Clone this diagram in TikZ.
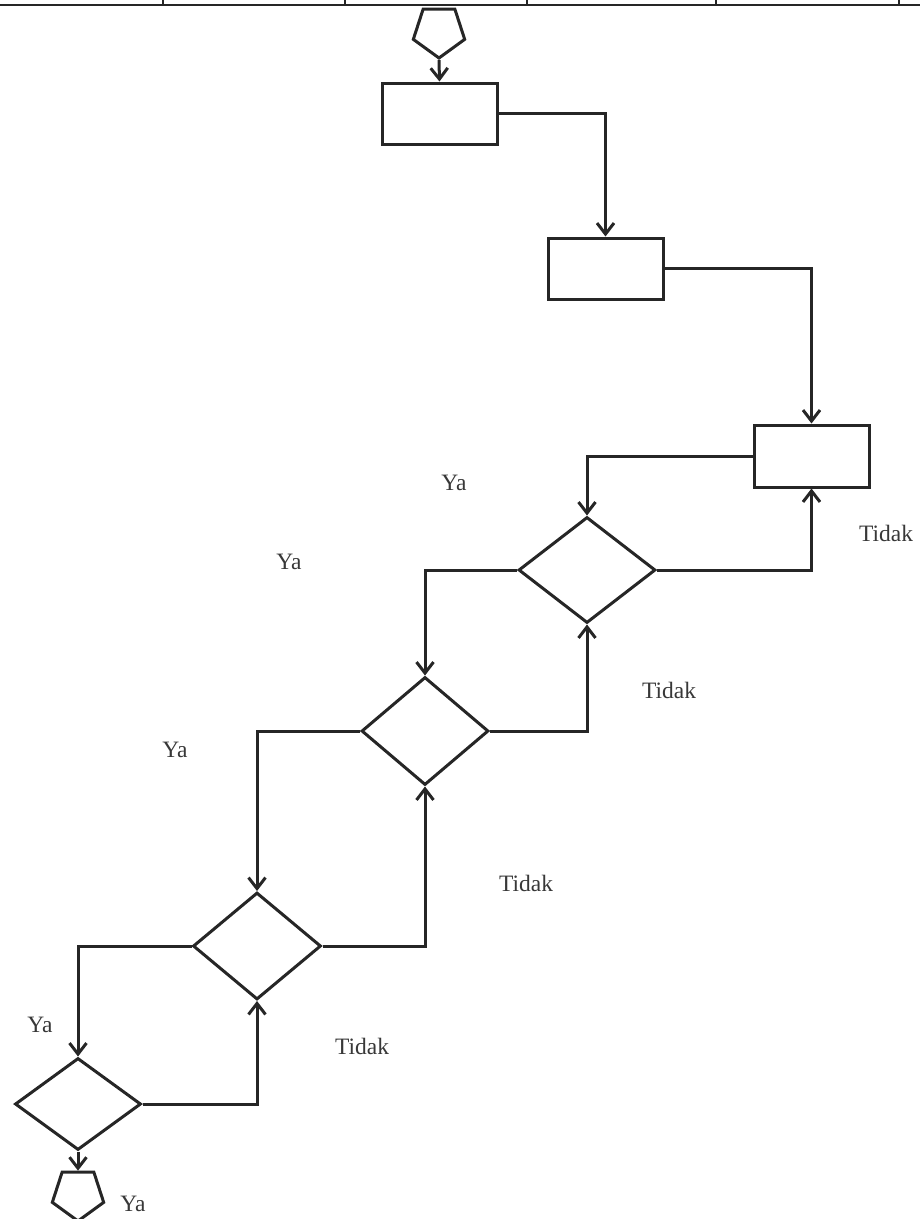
\documentclass[tikz,border=0pt]{standalone}
\usepackage{fontspec}
\setmainfont{Liberation Serif}
\usetikzlibrary{shapes.geometric,arrows.meta}
\definecolor{ink}{HTML}{262626}
\definecolor{txt}{HTML}{383838}
\begin{document}
\begin{tikzpicture}[x=1pt,y=-1pt,
  box/.style={draw=ink,line width=3pt,rectangle,inner sep=0pt,minimum width=115pt,minimum height=61pt},
  dia/.style={draw=ink,line width=3pt,diamond,inner sep=0pt},
  penta/.style={draw=ink,line width=3pt,regular polygon,regular polygon sides=5,shape border rotate=180,inner sep=0pt,minimum size=54pt},
  arr/.style={draw=ink,line width=3pt,-{Straight Barb[length=11pt,width=17pt,line width=3pt]}},
  lbl/.style={text=txt,font=\fontsize{23.5}{27}\selectfont,inner sep=0pt}
]
\useasboundingbox (0,0) rectangle (920,1219);
% top strip of table
\draw[ink,line width=2pt] (0,5) -- (920,5);
\foreach \x in {163,345,527,716,899} \draw[ink,line width=1.8pt] (\x,0) -- (\x,5);

% nodes
\node[penta] (start) at (439,31) {};
\node[box] (b1) at (439.5,113.5) {};
\node[box] (b2) at (605.5,268.5) {};
\node[box,minimum height=62pt] (b3) at (811.5,456) {};
\node[dia,minimum width=137pt,minimum height=106pt] (d1) at (587,570) {};
\node[dia,minimum width=127pt,minimum height=108pt] (d2) at (425,731) {};
\node[dia,minimum width=128pt,minimum height=107pt] (d3) at (257,946) {};
\node[dia,minimum width=126pt,minimum height=92pt] (d4) at (78,1104) {};
\node[penta] (stop) at (78,1194) {};

% connectors
\draw[arr] (start.south) -- (b1.north);
\draw[arr] (b1.east) -| (b2.north);
\draw[arr] (b2.east) -| (b3.north);
\draw[arr] (b3.west) -| (d1.north);
\draw[arr] (d1.east) -| (b3.south);
\draw[arr] (d1.west) -| (d2.north);
\draw[arr] (d2.east) -| (d1.south);
\draw[arr] (d2.west) -| (d3.north);
\draw[arr] (d3.east) -| (d2.south);
\draw[arr] (d3.west) -| (d4.north);
\draw[arr] (d4.east) -| (d3.south);
\draw[arr] (d4.south) -- (stop.north);

% labels
\node[lbl] (ya1) at (454,483) {Ya};
\node[lbl] (ya2) at (289,562) {Ya};
\node[lbl] (ya3) at (175,750) {Ya};
\node[lbl] (ya4) at (40,1025) {Ya};
\node[lbl] (ya5) at (133,1204) {Ya};
\node[lbl] (t1) at (886,533) {Tidak};
\node[lbl] (t2) at (669,690) {Tidak};
\node[lbl] (t3) at (526,883) {Tidak};
\node[lbl] (t4) at (362,1046) {Tidak};
\end{tikzpicture}
\end{document}
